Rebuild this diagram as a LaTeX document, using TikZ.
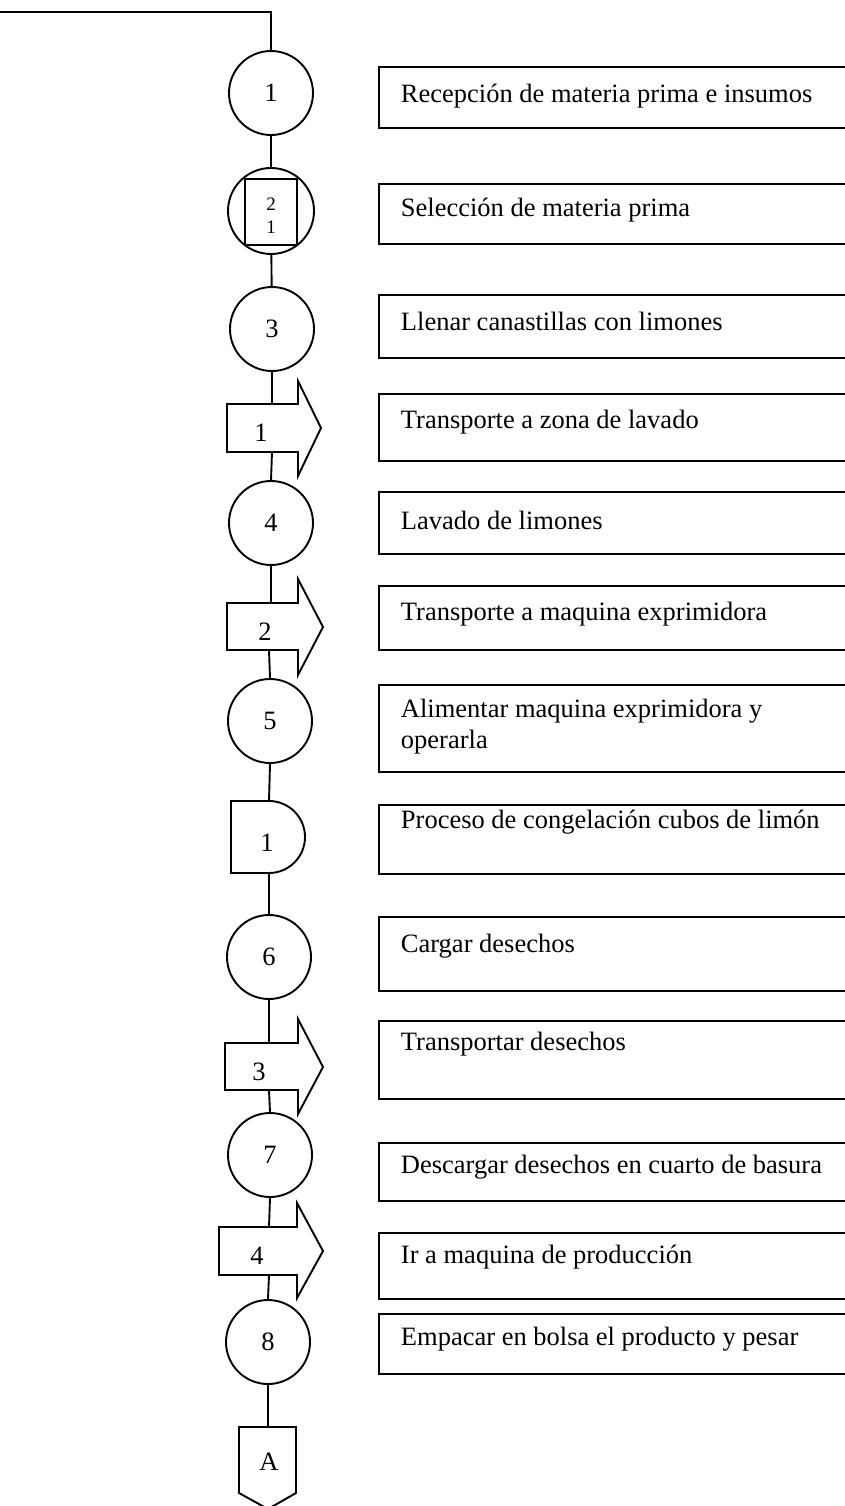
\documentclass[tikz,border=0pt]{standalone}
\usepackage{fontspec}
\setmainfont{Liberation Serif}
\begin{document}
\begin{tikzpicture}[x=1pt,y=-1pt,line width=1.9pt,
  op/.style={draw,circle,minimum size=84pt,inner sep=0pt,font=\fontsize{26.5}{30}\selectfont},
  lbl/.style={inner sep=0pt,font=\fontsize{26.5}{30}\selectfont},
  small/.style={inner sep=0pt,font=\fontsize{19}{21}\selectfont},
  descbox/.style={draw,anchor=north west,minimum width=480pt,inner sep=0pt},
  txt/.style={anchor=base west,inner sep=0pt,font=\fontsize{26.5}{30}\selectfont},
  link/.style={draw}]
\useasboundingbox (0,0) rectangle (844,1506);
\fill[white] (0,0) rectangle (844,1506);

% ---------- symbols ----------
\coordinate (start) at (0,12);
\node[op] (c1) at (271,93) {1};
\node[op,minimum size=86pt] (c2) at (271,211) {};
\node[draw,inner sep=0pt,minimum width=52pt,minimum height=66pt] (sq) at (271,212) {};
\node[small] at (271,204) {2};
\node[small] at (271,227) {1};
\node[op] (c3) at (272,329) {3};

% transport 1
\draw (227,404) -- (298,404) -- (298,381) -- (321,428) -- (298,476) -- (298,452) -- (227,452) -- cycle;
\coordinate (t1n) at (272,404);
\coordinate (t1s) at (272,452);
\node[lbl] (t1) at (261,433) {1};

\node[op] (c4) at (271,523) {4};

% transport 2
\draw (227,603) -- (298,603) -- (298,579) -- (323,627) -- (298,675) -- (298,650) -- (227,650) -- cycle;
\coordinate (t2n) at (271,603);
\coordinate (t2s) at (269,650);
\node[lbl] (t2) at (265,632) {2};

\node[op] (c5) at (270,721) {5};

% delay
\draw (231,801) -- (269,801) arc[start angle=90,end angle=-90,radius=36pt] -- (231,873) -- cycle;
\coordinate (d1n) at (269,801);
\coordinate (d1s) at (269,873);
\node[lbl] (d1) at (267,843) {1};

\node[op] (c6) at (269,957) {6};

% transport 3
\draw (225,1043) -- (298,1043) -- (298,1019) -- (323,1067) -- (298,1114) -- (298,1090) -- (225,1090) -- cycle;
\coordinate (t3n) at (269,1043);
\coordinate (t3s) at (269,1090);
\node[lbl] (t3) at (259,1072) {3};

\node[op] (c7) at (270,1155) {7};

% transport 4
\draw (219,1227) -- (297,1227) -- (297,1203) -- (323,1251) -- (297,1298) -- (297,1275) -- (219,1275) -- cycle;
\coordinate (t4n) at (269,1227);
\coordinate (t4s) at (269,1275);
\node[lbl] (t4) at (257,1256) {4};

\node[op] (c8) at (268,1342) {8};

% off-page connector
\draw (239,1427) -- (296,1427) -- (296,1493) -- (268,1509) -- (239,1493) -- cycle;
\coordinate (an) at (268,1427);
\node[lbl] (A) at (269,1462) {A};

% ---------- connectors ----------
\draw[link] (start) -| (c1.north);
\draw[link] (c1) -- (c2);
\draw[link] (c2) -- (c3);
\draw[link] (c3.south) -- (t1n);
\draw[link] (t1s) -- (c4.north);
\draw[link] (c4.south) -- (t2n);
\draw[link] (t2s) -- (c5.north);
\draw[link] (c5.south) -- (d1n);
\draw[link] (d1s) -- (c6.north);
\draw[link] (c6.south) -- (t3n);
\draw[link] (t3s) -- (c7.north);
\draw[link] (c7.south) -- (t4n);
\draw[link] (t4s) -- (c8.north);
\draw[link] (c8.south) -- (an);

% ---------- description boxes ----------
\node[descbox,minimum height=61pt] (b1) at (378,66) {};
\node[txt] at (400,103) {Recepción de materia prima e insumos};
\node[descbox,minimum height=60pt] (b2) at (378,183) {};
\node[txt] at (400,217) {Selección de materia prima};
\node[descbox,minimum height=63pt] (b3) at (378,294) {};
\node[txt] at (400,330) {Llenar canastillas con limones};
\node[descbox,minimum height=67pt] (b4) at (378,393) {};
\node[txt] at (400,428) {Transporte a zona de lavado};
\node[descbox,minimum height=62pt] (b5) at (378,491) {};
\node[txt] at (400,529) {Lavado de limones};
\node[descbox,minimum height=64pt] (b6) at (378,585) {};
\node[txt] at (400,620) {Transporte a maquina exprimidora};
\node[descbox,minimum height=87pt] (b7) at (378,684) {};
\node[txt] at (400,717) {Alimentar maquina exprimidora y};
\node[txt] at (400,748) {operarla};
\node[descbox,minimum height=69pt] (b8) at (378,804) {};
\node[txt] at (400,828) {Proceso de congelación cubos de limón};
\node[descbox,minimum height=74pt] (b9) at (378,916) {};
\node[txt] at (400,952) {Cargar desechos};
\node[descbox,minimum height=78pt] (b10) at (378,1020) {};
\node[txt] at (400,1050) {Transportar desechos};
\node[descbox,minimum height=58pt] (b11) at (378,1142) {};
\node[txt] at (400,1173) {Descargar desechos en cuarto de basura};
\node[descbox,minimum height=66pt] (b12) at (378,1232) {};
\node[txt] at (400,1263) {Ir a maquina de producción};
\node[descbox,minimum height=60pt] (b13) at (378,1313) {};
\node[txt] at (400,1345) {Empacar en bolsa el producto y pesar};
\end{tikzpicture}
\end{document}
